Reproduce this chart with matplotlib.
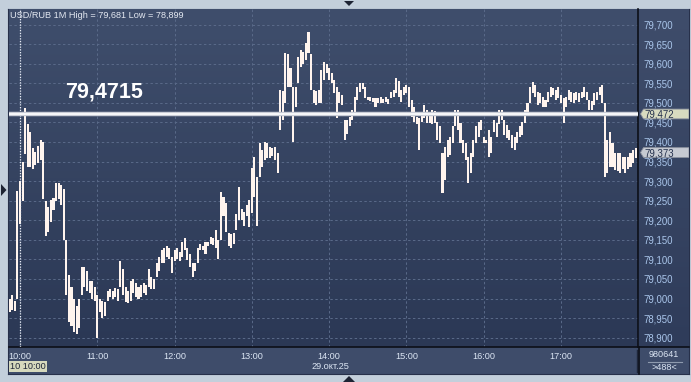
import matplotlib.pyplot as plt
import numpy as np
from matplotlib.patches import Polygon
from matplotlib.lines import Line2D
from matplotlib.colors import LinearSegmentedColormap

plt.rcParams['font.family'] = ['Liberation Sans', 'DejaVu Sans']

# 2-minute bars, minutes from 10:00
start_min = -8
step_min = 2

highs = [79.000, 79.010, 78.995, 79.275, 79.300, 79.350, 79.487, 79.445, 79.425, 79.385,
         79.375, 79.390, 79.405, 79.400, 79.250, 79.235, 79.252, 79.258, 79.295, 79.295,
         79.290, 79.280, 79.150, 79.060, 79.030, 79.000, 78.980, 79.000, 79.080, 79.080,
         79.070, 79.045, 79.045, 79.030, 79.010, 79.000, 78.995, 78.990, 79.020, 79.025,
         79.020, 79.028, 79.025, 79.095, 79.075, 79.030, 79.020, 79.045, 79.050, 79.040,
         79.030, 79.035, 79.040, 79.035, 79.075, 79.055, 79.050, 79.090, 79.105, 79.125,
         79.130, 79.135, 79.130, 79.105, 79.125, 79.128, 79.120, 79.145, 79.155, 79.130,
         79.115, 79.090, 79.090, 79.130, 79.140, 79.135, 79.145, 79.145, 79.158, 79.155,
         79.175, 79.150, 79.272, 79.260, 79.245, 79.168, 79.165, 79.168, 79.215, 79.285,
         79.230, 79.220, 79.240, 79.252, 79.333, 79.362, 79.310, 79.397, 79.380, 79.400,
         79.398, 79.388, 79.385, 79.388, 79.372, 79.533, 79.530, 79.627, 79.625, 79.590,
         79.540, 79.540, 79.617, 79.635, 79.630, 79.652, 79.681, 79.625, 79.533, 79.530,
         79.533, 79.585, 79.605, 79.600, 79.590, 79.575, 79.558, 79.540, 79.528, 79.520,
         79.455, 79.455, 79.463, 79.482, 79.515, 79.540, 79.550, 79.550, 79.540, 79.515,
         79.514, 79.512, 79.512, 79.512, 79.515, 79.510, 79.515, 79.510, 79.528, 79.533,
         79.563, 79.555, 79.533, 79.540, 79.545, 79.540, 79.507, 79.490, 79.465, 79.460,
         79.472, 79.495, 79.482, 79.472, 79.482, 79.478, 79.452, 79.440, 79.372, 79.387,
         79.405, 79.412, 79.440, 79.482, 79.482, 79.448, 79.405, 79.398, 79.362, 79.372,
         79.405, 79.440, 79.452, 79.456, 79.413, 79.405, 79.431, 79.413, 79.456, 79.448,
         79.482, 79.482, 79.456, 79.443, 79.431, 79.418, 79.413, 79.425, 79.440, 79.452,
         79.482, 79.500, 79.540, 79.553, 79.545, 79.528, 79.525, 79.515, 79.507, 79.528,
         79.540, 79.537, 79.533, 79.540, 79.520, 79.512, 79.515, 79.533, 79.528, 79.525,
         79.528, 79.525, 79.528, 79.540, 79.528, 79.507, 79.505, 79.525, 79.528, 79.540,
         79.545, 79.500, 79.405, 79.425, 79.398, 79.372, 79.372, 79.372, 79.362, 79.362,
         79.362, 79.372, 79.380, 79.385]

lows = [78.965, 78.970, 78.968, 79.000, 79.190, 79.250, 79.370, 79.335, 79.335, 79.330,
        79.340, 79.345, 79.355, 79.255, 79.160, 79.170, 79.195, 79.225, 79.250, 79.255,
        79.240, 79.150, 79.010, 78.940, 78.930, 78.915, 78.910, 78.925, 79.010, 79.030,
        79.020, 79.015, 79.000, 78.995, 78.899, 78.965, 78.950, 78.955, 78.995, 79.005,
        79.000, 79.005, 78.995, 79.030, 79.010, 78.990, 78.988, 78.995, 79.015, 79.005,
        79.000, 79.005, 79.015, 79.010, 79.030, 79.025, 79.025, 79.055, 79.070, 79.090,
        79.090, 79.105, 79.100, 79.065, 79.095, 79.100, 79.095, 79.105, 79.125, 79.098,
        79.080, 79.055, 79.070, 79.090, 79.125, 79.125, 79.115, 79.135, 79.140, 79.137,
        79.130, 79.100, 79.150, 79.210, 79.170, 79.135, 79.130, 79.140, 79.175, 79.200,
        79.200, 79.185, 79.210, 79.183, 79.218, 79.260, 79.185, 79.310, 79.335, 79.355,
        79.360, 79.360, 79.365, 79.355, 79.320, 79.430, 79.455, 79.500, 79.540, 79.540,
        79.400, 79.490, 79.550, 79.592, 79.600, 79.610, 79.627, 79.533, 79.500, 79.495,
        79.500, 79.500, 79.558, 79.575, 79.558, 79.550, 79.525, 79.460, 79.500, 79.495,
        79.405, 79.420, 79.440, 79.456, 79.477, 79.507, 79.528, 79.535, 79.512, 79.507,
        79.505, 79.503, 79.490, 79.500, 79.500, 79.500, 79.502, 79.498, 79.512, 79.515,
        79.525, 79.515, 79.502, 79.520, 79.525, 79.490, 79.465, 79.452, 79.445, 79.380,
        79.452, 79.460, 79.448, 79.448, 79.445, 79.448, 79.405, 79.398, 79.270, 79.303,
        79.362, 79.367, 79.398, 79.440, 79.431, 79.398, 79.372, 79.354, 79.295, 79.320,
        79.362, 79.398, 79.413, 79.431, 79.398, 79.398, 79.362, 79.372, 79.425, 79.413,
        79.445, 79.456, 79.418, 79.410, 79.405, 79.385, 79.380, 79.398, 79.413, 79.418,
        79.448, 79.470, 79.500, 79.525, 79.515, 79.495, 79.500, 79.490, 79.490, 79.502,
        79.515, 79.520, 79.507, 79.512, 79.500, 79.448, 79.490, 79.507, 79.502, 79.500,
        79.507, 79.502, 79.512, 79.515, 79.507, 79.482, 79.482, 79.495, 79.507, 79.520,
        79.500, 79.310, 79.320, 79.335, 79.335, 79.328, 79.325, 79.320, 79.330, 79.320,
        79.330, 79.335, 79.345, 79.360]

hour_labels = ['10:00', '11:00', '12:00', '13:00', '14:00', '15:00', '16:00', '17:00']
price_ticks = [78.90, 78.95, 79.00, 79.05, 79.10, 79.15, 79.20, 79.25,
               79.30, 79.35, 79.40, 79.45, 79.50, 79.55, 79.60, 79.65, 79.70]
price_labels = [('%.3f' % p).replace('.', ',') for p in price_ticks]

level = 79.4715
level_text = '79,4715'
level_tag = '79,472'
last_price = 79.373
last_tag = '79,373'
title = 'USD/RUB 1M High = 79,681 Low = 78,899'
cursor_label = '10 10:00'
date_label = '29.окт.25'
volume_label = '980641'
bars_label = '>488<'

highs = np.array(highs)
lows = np.array(lows)
times = start_min + step_min * np.arange(len(highs))

W, H = 691, 382
fig = plt.figure(figsize=(W / 100, H / 100), dpi=100, facecolor='#c3cfdb')


def fx(px):
    return px / W


def fy(py):
    return 1 - py / H


ylim = (78.8763, 79.7396)
xlim = (-8.54, 479.8)

# dark frame behind everything
frame = fig.add_axes([fx(8), fy(374), (689 - 8) / W, (374 - 9) / H], zorder=0)
frame.set_facecolor('#3e4c6a')
frame.set_xticks([])
frame.set_yticks([])
for s in frame.spines.values():
    s.set_color('#27304a')

grad = np.linspace(0, 1, 256).reshape(-1, 1)
cmap = LinearSegmentedColormap.from_list('bg', ['#3f4e6c', '#2b3855'])
cmap_r = LinearSegmentedColormap.from_list('bgr', ['#3f4d6b', '#2f3c5a'])

# right price panel
ax_r = fig.add_axes([fx(639), fy(347), 50 / W, (347 - 9) / H], zorder=1)
ax_r.imshow(grad, extent=[0, 50, ylim[0], ylim[1]], aspect='auto', cmap=cmap_r, zorder=0)
ax_r.set_xlim(0, 50)
ax_r.set_ylim(*ylim)
ax_r.set_xticks([])
ax_r.set_yticks(price_ticks, price_labels, ha='left')
ax_r.tick_params(axis='y', length=0, pad=-3, labelsize=6.9, labelcolor='#aac6eb')
for s in ax_r.spines.values():
    s.set_visible(False)

tag_h = 0.0125
for p, lab, col in [(level, level_tag, '#d8dbc0'), (last_price, last_tag, '#c6cad2')]:
    ax_r.add_patch(Polygon([(1.5, p), (4.5, p + tag_h), (50, p + tag_h),
                            (50, p - tag_h), (4.5, p - tag_h)],
                           closed=True, facecolor=col, edgecolor='#8d93a0', lw=0.6, zorder=4))
    ax_r.text(5.5, p, lab, fontsize=6.9, color='#24304c', va='center_baseline', ha='left', zorder=5)

# main chart
ax = fig.add_axes([fx(9), fy(347), (638 - 9) / W, (347 - 9) / H], zorder=2)
ax.imshow(grad, extent=[xlim[0], xlim[1], ylim[0], ylim[1]], aspect='auto', cmap=cmap, zorder=0)
ax.set_xlim(*xlim)
ax.set_ylim(*ylim)
ax.set_yticks(price_ticks)
ax.set_xticks(np.arange(len(hour_labels)) * 60, hour_labels)
ax.tick_params(axis='y', left=False, labelleft=False)
ax.tick_params(axis='x', length=0, pad=3.5, labelsize=6.6, labelcolor='#dbe5f3')
ax.grid(True, color='#5a6a89', linestyle=(0, (2.5, 2.5)), linewidth=0.7, zorder=1)
ax.set_axisbelow(True)
for side in ['left', 'top']:
    ax.spines[side].set_visible(False)
for side in ['bottom', 'right']:
    ax.spines[side].set_color('#0c0f18')
    ax.spines[side].set_linewidth(1.2)

ax.bar(times, highs - lows, bottom=lows, width=1.6, color='#fff4ee', linewidth=0, zorder=3)

ax.axvline(0, color='#e8ecf4', linestyle=(0, (1, 1.2)), linewidth=0.9, zorder=4)
ax.axhline(level, color='#c9ccd6', linewidth=3.2, zorder=5)
ax.axhline(level, color='#ffffff', linewidth=1.2, zorder=6)
ax.annotate(level_text, xy=(35, level), xytext=(0, 11.5), textcoords='offset points',
            fontsize=15.5, fontweight='bold', color='#ffffff', va='baseline', ha='left', zorder=6)

fig.text(fx(10), fy(18.5), title, fontsize=6.6, color='#e3e8f1', va='baseline', ha='left', zorder=5)

# bottom panel details
fig.text(fx(10), fy(366.5), cursor_label, fontsize=6.6, color='#1e2538', va='center', ha='left',
         bbox=dict(boxstyle='square,pad=0.12', facecolor='#d6d9bd', edgecolor='none'), zorder=5)
fig.text(fx(330), fy(366.5), date_label, fontsize=6.6, color='#dbe5f3', va='center', ha='center', zorder=5)
fig.text(fx(664), fy(354.5), volume_label, fontsize=6.6, color='#dbe5f3', va='center', ha='center', zorder=5)
fig.text(fx(664), fy(368), bars_label, fontsize=6.6, color='#dbe5f3', va='center', ha='center', zorder=5)
fig.add_artist(Line2D([fx(648), fx(682)], [fy(361.5), fy(361.5)], color='#8e9aae', lw=0.8))
fig.add_artist(Line2D([fx(636.5), fx(636.5)], [fy(350), fy(372)], color='#1f273a', lw=1.0))
fig.add_artist(Line2D([fx(639), fx(639)], [fy(347), fy(374)], color='#0c0f18', lw=1.2))
fig.add_artist(Line2D([fx(638), fx(689)], [fy(347), fy(347)], color='#0c0f18', lw=1.2))

# small navigation arrows at the frame edges
arrow_col = '#1d2333'
fig.add_artist(Polygon([(fx(344), fy(1)), (fx(354), fy(1)), (fx(349), fy(6))],
                       closed=True, facecolor=arrow_col, edgecolor='none'))
fig.add_artist(Polygon([(fx(343), fy(382)), (fx(355), fy(382)), (fx(349), fy(376))],
                       closed=True, facecolor=arrow_col, edgecolor='none'))
fig.add_artist(Polygon([(fx(1), fy(184)), (fx(1), fy(196)), (fx(6.5), fy(190))],
                       closed=True, facecolor=arrow_col, edgecolor='none'))

fig.savefig('out.png', dpi=100, facecolor=fig.get_facecolor())
